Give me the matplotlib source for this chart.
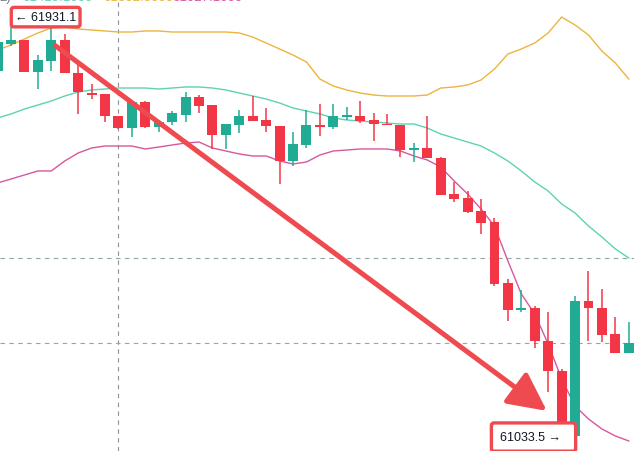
import numpy as np
import matplotlib
matplotlib.use("Agg")
import matplotlib.pyplot as plt
from matplotlib.patches import FancyArrowPatch

# OHLC of the visible bars (the first one is cut by the left edge)
opens = [61819.7, 61877.5, 61886.1, 61817.5, 61841.1, 61886.1, 61815.4, 61772.5, 61770.4, 61723.3,
         61697.5, 61753.3, 61699.7, 61710.4, 61725.4, 61764.0, 61746.8, 61682.5, 61704.0, 61723.3,
         61714.7, 61701.8, 61626.9, 61661.1, 61704.0, 61699.7, 61721.1, 61723.3, 61714.7, 61706.1,
         61704.0, 61650.4, 61654.7, 61633.3, 61556.2, 61547.6, 61519.8, 61496.2, 61365.5, 61307.7,
         61312.0, 61241.3, 61177.0, 61037.8, 61326.9, 61312.0, 61256.3, 61215.6]
highs = [61888.2, 61931.1, 61886.1, 61853.9, 61913.9, 61898.9, 61836.8, 61791.8, 61770.4, 61723.3,
         61755.4, 61755.4, 61714.7, 61734.0, 61774.7, 61768.2, 61746.8, 61706.1, 61736.1, 61766.1,
         61740.4, 61701.8, 61689.0, 61736.1, 61749.0, 61749.0, 61742.5, 61755.4, 61729.7, 61727.6,
         61704.0, 61665.4, 61723.3, 61635.4, 61581.9, 61562.6, 61545.5, 61504.8, 61374.1, 61350.5,
         61316.2, 61303.4, 61181.3, 61337.7, 61391.2, 61352.7, 61292.7, 61282.0]
lows = [61811.1, 61873.2, 61817.5, 61781.1, 61819.7, 61815.4, 61727.6, 61759.7, 61710.4, 61695.4,
        61678.3, 61697.5, 61689.0, 61704.0, 61710.4, 61729.7, 61652.6, 61652.6, 61686.8, 61712.5,
        61689.0, 61577.6, 61616.2, 61654.7, 61680.4, 61695.4, 61714.7, 61708.3, 61669.7, 61704.0,
        61635.4, 61624.7, 61633.3, 61554.0, 61539.0, 61515.5, 61470.5, 61359.1, 61284.1, 61303.4,
        61226.3, 61132.0, 61033.5, 61037.8, 61241.3, 61239.1, 61215.6, 61215.6]
closes = [61881.8, 61886.1, 61817.5, 61843.2, 61886.1, 61815.4, 61774.7, 61768.2, 61723.3, 61697.5,
          61753.3, 61699.7, 61710.4, 61729.7, 61764.0, 61744.7, 61682.5, 61706.1, 61723.3, 61712.5,
          61701.8, 61626.9, 61663.3, 61704.0, 61699.7, 61723.3, 61725.4, 61712.5, 61706.1, 61704.0,
          61650.4, 61654.7, 61633.3, 61554.0, 61545.5, 61517.6, 61494.1, 61363.4, 61307.7, 61312.0,
          61241.3, 61177.0, 61037.8, 61326.9, 61312.0, 61254.1, 61215.6, 61237.0]

# Bollinger bands
bb_upper = [61864.7, 61875.4, 61888.2, 61901.1, 61911.8, 61913.9, 61909.6, 61907.5, 61905.4, 61903.2,
            61903.2, 61905.4, 61905.4, 61903.2, 61903.2, 61903.2, 61903.2, 61903.2, 61901.1, 61892.5,
            61879.6, 61866.8, 61853.9, 61838.9, 61802.5, 61787.5, 61779.0, 61772.5, 61768.2, 61766.1,
            61766.1, 61766.1, 61768.2, 61783.2, 61785.4, 61789.7, 61800.4, 61823.9, 61856.1, 61866.8,
            61879.6, 61901.1, 61935.3, 61918.2, 61896.8, 61862.5, 61836.8, 61802.5]
bb_basis = [61719.0, 61727.6, 61738.3, 61746.8, 61755.4, 61766.1, 61774.7, 61779.0, 61781.1, 61783.2,
            61783.2, 61783.2, 61781.1, 61783.2, 61785.4, 61785.4, 61783.2, 61779.0, 61772.5, 61766.1,
            61759.7, 61751.1, 61740.4, 61734.0, 61727.6, 61719.0, 61714.7, 61712.5, 61710.4, 61708.3,
            61706.1, 61706.1, 61697.5, 61684.7, 61676.1, 61667.5, 61659.0, 61644.0, 61626.9, 61605.5,
            61581.9, 61562.6, 61534.8, 61515.5, 61487.6, 61464.0, 61438.5, 61419.1]
bb_lower = [61579.8, 61588.3, 61596.9, 61605.5, 61605.5, 61626.9, 61644.0, 61654.7, 61659.0, 61659.0,
            61659.0, 61652.6, 61656.8, 61661.1, 61665.4, 61667.5, 61654.7, 61648.3, 61641.9, 61637.6,
            61637.6, 61626.9, 61620.5, 61624.7, 61639.7, 61648.3, 61650.4, 61652.6, 61652.6, 61652.6,
            61648.3, 61637.6, 61629.0, 61614.0, 61584.1, 61556.2, 61524.0, 61487.6, 61412.7, 61342.0,
            61299.1, 61234.8, 61159.9, 61102.1, 61074.2, 61052.8, 61037.8, 61027.1]

crosshair_bar = 9

up_color = "#22ab94"
down_color = "#f23645"
mark_red = "#ee4a50"

opens, highs, lows, closes = map(np.array, (opens, highs, lows, closes))
x = np.arange(len(opens)) - 1  # first bar is the clipped one

fig = plt.figure(figsize=(6.34, 4.52), dpi=100)
ax = fig.add_axes([0, 0, 1, 1])
ax.axis("off")
ax.set_xlim(-0.82, 46.39)
ax.set_ylim(61005.6, 61973.9)

# crosshair + last value lines
ax.axvline(x[crosshair_bar], color="#8e9199", lw=0.8, ls=(0, (4, 4)), zorder=1)
ax.axhline(bb_basis[-1], color="#8fa8a2", lw=0.8, ls=(0, (4, 4)), zorder=1)
ax.axhline(closes[-1], color="#8fa8a2", lw=0.8, ls=(0, (4, 4)), zorder=1)

# bands
ax.plot(x, bb_upper, color="#ecb53c", lw=1.0, zorder=2)
ax.plot(x, bb_basis, color="#5ed2b2", lw=1.0, zorder=2)
ax.plot(x, bb_lower, color="#d7579f", lw=1.0, zorder=2)

# candles
colors = np.where(closes >= opens, up_color, down_color)
ax.vlines(x, lows, highs, colors=colors, lw=1.1, zorder=3)
body_low = np.minimum(opens, closes)
body_h = np.maximum(np.abs(closes - opens), 2.2)
ax.bar(x, body_h, bottom=body_low, width=0.74, color=colors, linewidth=0, zorder=4)

# max / min labels
i_hi = int(np.argmax(highs))
i_lo = int(np.argmin(lows))
fam = ["Liberation Sans", "DejaVu Sans"]
ax.text(x[i_hi] + 0.3, highs[i_hi] + 4, "\u2190 %.1f" % highs[i_hi], ha="left", va="center",
        fontsize=9, family=fam, color="#131722", zorder=6,
        bbox=dict(boxstyle="round,pad=0.3,rounding_size=0.2", fc="white", ec=mark_red, lw=2.4))
ax.text(x[i_lo] + 0.44, lows[i_lo] + 2, "%.1f \u2192  " % lows[i_lo], ha="right", va="center",
        fontsize=9, family=fam, color="#131722", zorder=6,
        bbox=dict(boxstyle="round,pad=0.65,rounding_size=0.2", fc="white", ec=mark_red, lw=2.4))

# big arrow from the top towards the low
arrow = FancyArrowPatch((x[4] + 0.3, highs[4] - 40), (x[i_lo] - 1.1, lows[i_lo] + 58),
                        arrowstyle="-|>,head_length=1.3,head_width=0.65", mutation_scale=18,
                        color=mark_red, lw=3.6, zorder=5, shrinkA=0, shrinkB=0)
ax.add_patch(arrow)

# legend row, clipped by the top edge
top = ax.get_ylim()[1]
leg_y = top + 5
ax.text(-0.85, leg_y, "2)", color="#787b86", fontsize=9.5, family=fam, va="center", ha="left")
ax.text(0.82, leg_y, "%.4f" % bb_basis[-1], color="#5ed2b2", fontsize=9.5, family=fam, va="center", ha="left")
ax.text(6.85, leg_y, "%.4f" % bb_upper[-1], color="#ecb53c", fontsize=9.5, family=fam, va="center", ha="left")
ax.text(12.0, leg_y, "%.4f" % bb_lower[-1], color="#d7579f", fontsize=9.5, family=fam, va="center", ha="left")

fig.savefig("out.png", dpi=100)
